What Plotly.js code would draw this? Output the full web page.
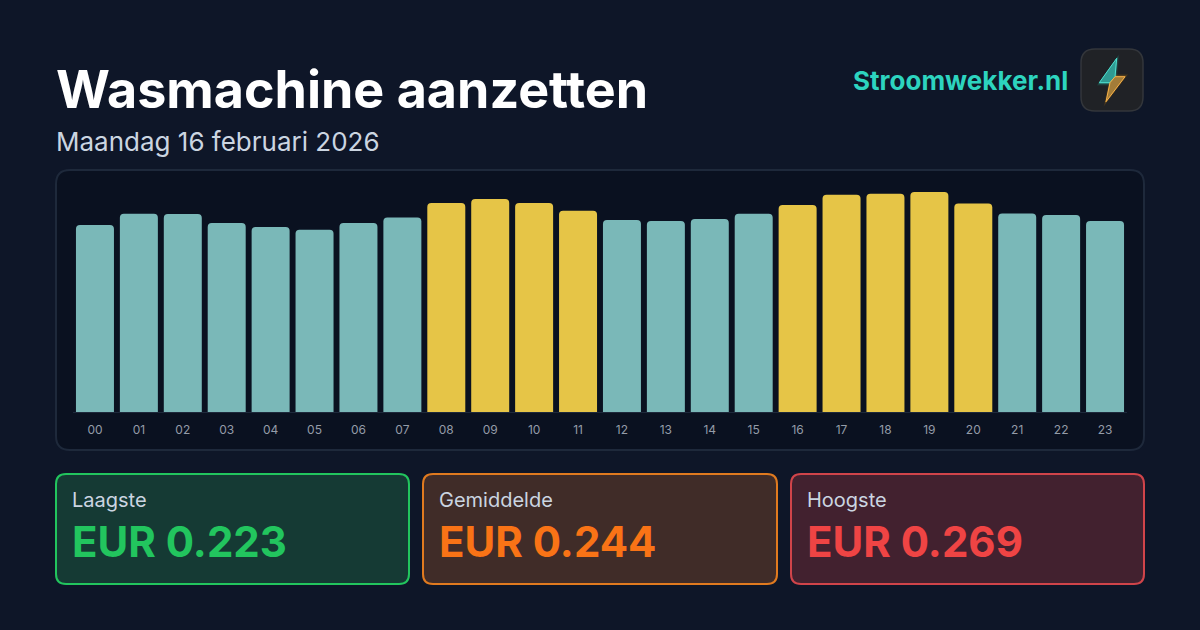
<!DOCTYPE html>
<html><head><meta charset="utf-8">
<script src="https://cdn.plot.ly/plotly-3.0.1.min.js"></script>
<style>html,body{margin:0;padding:0;background:#0e1628}#c{width:1200px;height:630px}</style>
</head><body><div id="c"></div>
<script>
const hours=["00","01","02","03","04","05","06","07","08","09","10","11","12","13","14","15","16","17","18","19","20","21","22","23"];
const prices=[0.2287,0.2425,0.2421,0.2311,0.2262,0.2230,0.2311,0.2378,0.2556,0.2605,0.2556,0.2462,0.2348,0.2336,0.2360,0.2425,0.2531,0.2658,0.2669,0.2690,0.2549,0.2428,0.2409,0.2336];
const peakHours=["08","09","10","11","16","17","18","19","20"];
const cardLabels=["Laagste","Gemiddelde","Hoogste"];
const cardValues=["EUR 0.223","EUR 0.244","EUR 0.269"];
const cardColors=["#22c55e","#f97316","#ef4444"];
const cardFills=["#153a34","#402c28","#42212f"];
const cardEdges=["#22c55e","#e07a1f","#d0444a"];
const W=1200,H=630;
const px=x=>x/W, py=y=>1-y/H;
function rr(x0,y0,x1,y1,r){
  return `M${px(x0+r)},${py(y0)} L${px(x1-r)},${py(y0)} Q${px(x1)},${py(y0)} ${px(x1)},${py(y0+r)} L${px(x1)},${py(y1-r)} Q${px(x1)},${py(y1)} ${px(x1-r)},${py(y1)} L${px(x0+r)},${py(y1)} Q${px(x0)},${py(y1)} ${px(x0)},${py(y1-r)} L${px(x0)},${py(y0+r)} Q${px(x0)},${py(y0)} ${px(x0+r)},${py(y0)} Z`;
}
function poly(p){return 'M'+p.map(q=>px(q[0])+','+py(q[1])).join(' L')+' Z';}
function scale(p,k,cx,cy){return p.map(q=>[cx+(q[0]-cx)*k,cy+(q[1]-cy)*k]);}
function sh(path,fill,line,width,opacity){return {type:'path',xref:'paper',yref:'paper',path,fillcolor:fill,line:{color:line||'rgba(0,0,0,0)',width:width||0},opacity:opacity===undefined?1:opacity,layer:'below'};}
const shapes=[];
shapes.push(sh(rr(56,170,1144,450,14),'#0a1120','#1e293b',2));
const cardX=[[56,409],[423,777],[791,1144]];
cardX.forEach((c,i)=>shapes.push(sh(rr(c[0],474,c[1],584,10),cardFills[i],cardEdges[i],2)));
shapes.push(sh(rr(1081,49,1143,111,14),'#202226','#33363b',1.5));
// bolt: teal upper half, amber lower half, soft glow from enlarged copies
const boltA=[[1116.7,58.3],[1099.3,82.7],[1110,82.7],[1115,76.7]];
const boltB=[[1110,82.7],[1106,101.7],[1125,76.7],[1115,76.7]];
[[1.3,0.10],[1.18,0.16],[1.08,0.28]].forEach(g=>{
  shapes.push(sh(poly(scale(boltA,g[0],1108,73)),'#2dd4bf',null,0,g[1]));
  shapes.push(sh(poly(scale(boltB,g[0],1114,85)),'#f59e0b',null,0,g[1]));
});
shapes.push(sh(poly(boltA),'#2f9a92','#4fe0d0',1));
shapes.push(sh(poly(boltB),'#a37c38','#f5b04a',1));
const ann=[];
function txt(text,x,y,size,color,weight,anchor){ann.push({text:text,xref:'paper',yref:'paper',x:px(x),y:py(y),xanchor:anchor||'left',yanchor:'middle',showarrow:false,borderpad:0,font:{family:'Inter',size:size,color:color,weight:weight||400}});}
txt('Maandag 16 februari 2026',55,142,26,'#cbd5e1',400);
txt('Stroomwekker.nl',1069,81,26,'#2dd4bf',700,'right');
cardLabels.forEach((l,i)=>{txt(l,cardX[i][0]+14.5,500.5,20,'#cbd5e1',400);txt(cardValues[i],cardX[i][0]+15,541,42,cardColors[i],700);});
const trace={type:'bar',x:hours,y:prices,marker:{color:hours.map(h=>peakHours.includes(h)?'#e6c547':'#7ab8b8'),line:{width:0},cornerradius:4},hoverinfo:'x+y'};
const layout={width:W,height:H,margin:{l:0,r:0,t:0,b:0},paper_bgcolor:'#0e1628',plot_bgcolor:'rgba(0,0,0,0)',showlegend:false,bargap:0.135,
 title:{text:'Wasmachine aanzetten',xref:'paper',yref:'paper',x:px(56),xanchor:'left',y:py(89.5),yanchor:'middle',font:{family:'Inter',size:52,color:'#ffffff',weight:700},pad:{l:0,r:0,t:0,b:0}},
 xaxis:{type:'category',categoryorder:'array',categoryarray:hours,domain:[px(73),px(1127)],anchor:'y',tickvals:hours,ticktext:hours,showgrid:false,zeroline:false,showline:true,linecolor:'#1e293b',linewidth:1,ticks:'',tickangle:0,ticklen:0,ticklabelstandoff:7,tickfont:{family:'Inter',size:12,color:'#949ca8'},automargin:false},
 yaxis:{range:[0,0.2935],domain:[py(412),py(172)],visible:false,fixedrange:true},
 shapes:shapes,annotations:ann};
Plotly.newPlot('c',[trace],layout,{displayModeBar:false,staticPlot:true});
</script></body></html>
